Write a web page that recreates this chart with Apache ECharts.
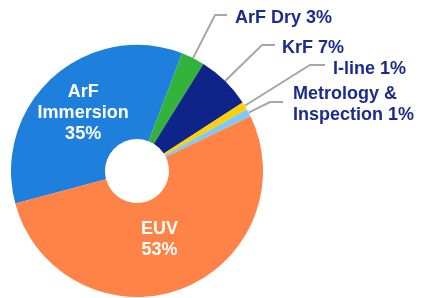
<!DOCTYPE html>
<html>
<head>
<meta charset="utf-8">
<script src="https://cdn.jsdelivr.net/npm/echarts@6/dist/echarts.min.js"></script>
<style>
html,body{margin:0;padding:0;background:#fff;}
#chart{width:422px;height:298px;}
</style>
</head>
<body>
<div id="chart"></div>
<script>
// Data
var categories = ['ArF Immersion', 'ArF Dry', 'KrF', 'I-line', 'Metrology & Inspection', 'EUV'];
var shares = [35, 3, 7, 1, 1, 53];
var labelTexts = ['ArF\nImmersion\n35%', 'ArF Dry 3%', 'KrF 7%', 'I-line 1%', 'Metrology &\nInspection 1%', 'EUV\n53%'];

// Styles / layout
var colors = ['#1f7fdc', '#33b33c', '#0f2488', '#ffd000', '#80c8f8', '#ff8247'];
var insideItems = { 'ArF Immersion': [1, 3], 'EUV': [-6, -8] };
var outsideGuides = {
  'ArF Dry': { elbow: [215, 15], end: [227, 15], text: [235, 18] },
  'KrF': { elbow: [262, 45], end: [275, 45], text: [282, 48] },
  'I-line': { elbow: [310, 65], end: [325, 65], text: [333, 69] },
  'Metrology & Inspection': { elbow: [270, 102], end: [283, 102], text: [293, 105] }
};

var data = categories.map(function (name, i) {
  var item = {
    name: name,
    value: shares[i],
    itemStyle: { color: colors[i] }
  };
  if (insideItems[name]) {
    item.label = {
      position: 'inside',
      color: '#ffffff',
      offset: insideItems[name],
      align: 'center'
    };
    item.labelLine = { show: false };
  }
  return item;
});

var chart = echarts.init(document.getElementById('chart'), null, { renderer: 'canvas' });
chart.setOption({
  backgroundColor: '#ffffff',
  animation: false,
  series: [{
    type: 'pie',
    center: [137, 171],
    radius: [32, 126],
    startAngle: 195,
    clockwise: true,
    avoidLabelOverlap: false,
    data: data,
    itemStyle: { borderWidth: 0 },
    label: {
      show: true,
      position: 'outside',
      formatter: function (p) { return labelTexts[p.dataIndex]; },
      fontFamily: 'Liberation Sans, Arial, sans-serif',
      fontWeight: 'bold',
      fontSize: 18,
      lineHeight: 21,
      color: '#1b2c8c',
      align: 'left'
    },
    labelLine: {
      show: true,
      length: 30,
      length2: 10,
      lineStyle: { color: '#a6a6a6', width: 2 }
    },
    labelLayout: function (params) {
      var name = categories[params.dataIndex];
      var g = outsideGuides[name];
      if (!g) return {};
      var start = params.labelLinePoints ? params.labelLinePoints[0] : g.elbow;
      return {
        x: g.text[0],
        y: g.text[1],
        align: 'left',
        verticalAlign: 'middle',
        labelLinePoints: [start, g.elbow, g.end]
      };
    }
  }]
});
</script>
</body>
</html>
